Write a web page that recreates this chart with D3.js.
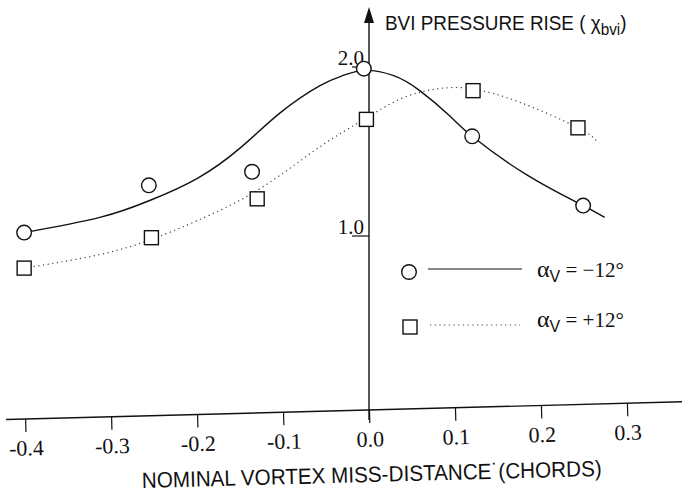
<!DOCTYPE html>
<html>
<head>
<meta charset="utf-8">
<script src="https://cdn.jsdelivr.net/npm/d3@7"></script>
<style>
body { margin: 0; background: #fff; }
svg { display: block; }
</style>
</head>
<body>
<script>
// measured points
var xMinus = [-0.401, -0.256, -0.136, -0.006, 0.120, 0.249];
var yMinus = [1.02, 1.30, 1.38, 1.99, 1.59, 1.18];
var xPlus = [-0.401, -0.253, -0.130, -0.003, 0.121, 0.243];
var yPlus = [0.81, 0.99, 1.22, 1.69, 1.86, 1.64];

// faired curves as drawn in the figure
var fitMinusX = [-0.401, -0.313, -0.255, -0.200, -0.150, -0.103, -0.057, -0.030, -0.005, 0.028, 0.059, 0.094, 0.120, 0.184, 0.249, 0.274];
var fitMinusY = [1.02, 1.11, 1.21, 1.34, 1.52, 1.73, 1.89, 1.95, 1.98, 1.95, 1.86, 1.71, 1.59, 1.36, 1.18, 1.11];
var fitPlusX = [-0.401, -0.313, -0.253, -0.200, -0.130, -0.065, -0.019, 0.028, 0.059, 0.086, 0.121, 0.176, 0.243, 0.265];
var fitPlusY = [0.81, 0.89, 0.98, 1.09, 1.27, 1.50, 1.65, 1.79, 1.85, 1.875, 1.87, 1.79, 1.64, 1.56];

var xTicks = [-0.4, -0.3, -0.2, -0.1, 0.0, 0.1, 0.2, 0.3];
var yTicks = [1.0, 2.0];

var W = 682, H = 496;
var svg = d3.select("body").append("svg").attr("width", W).attr("height", H);

var x = d3.scaleLinear().domain([-0.4, 0.3]).range([25, 627]);
var y = d3.scaleLinear().domain([0, 2]).range([405, 67]);
var x0 = x(0);

// x axis, slightly tilted like the scanned original
var xg = svg.append("g").attr("transform", "rotate(-1.5," + x0 + ",410)");
xg.append("line").attr("x1", 6).attr("x2", 690).attr("y1", 410).attr("y2", 410)
	.attr("stroke", "#111").attr("stroke-width", 1.4);
var xAxis = d3.axisBottom(x).tickValues(xTicks).tickSize(13).tickPadding(8)
	.tickFormat(function(d){ return d3.format(".1f")(d).replace("\u2212", "-"); });
var xa = xg.append("g").attr("transform", "translate(0,410)").call(xAxis);
xa.select(".domain").remove();
xa.selectAll(".tick line").attr("stroke", "#111").attr("stroke-width", 1.2);
xa.selectAll(".tick text").attr("font-family", "Liberation Serif").attr("font-size", 22).attr("fill", "#111");
xg.append("text").attr("x", 370).attr("y", 482).attr("text-anchor", "middle")
	.attr("font-family", "Liberation Sans").attr("font-size", 22).attr("fill", "#111")
	.attr("textLength", 460).attr("lengthAdjust", "spacingAndGlyphs")
	.text("NOMINAL VORTEX MISS-DISTANCE\u02D9(CHORDS)");

// y axis with arrow
svg.append("line").attr("x1", x0).attr("x2", x0).attr("y1", 420).attr("y2", 18)
	.attr("stroke", "#111").attr("stroke-width", 1.4);
svg.append("path").attr("d", "M" + x0 + ",7 L" + (x0 - 5) + ",23 L" + (x0 + 5) + ",23 Z").attr("fill", "#111");
yTicks.forEach(function(t){
	svg.append("line").attr("x1", x0 - 17).attr("x2", x0).attr("y1", y(t)).attr("y2", y(t))
		.attr("stroke", "#111").attr("stroke-width", 1.2);
	svg.append("text").attr("x", x0 - 5).attr("y", y(t) - 2).attr("text-anchor", "end")
		.attr("font-family", "Liberation Serif").attr("font-size", 21).attr("fill", "#111")
		.text(d3.format(".1f")(t));
});

// title
var title = svg.append("text").attr("transform", "translate(385,30) scale(0.9,1)")
	.attr("font-family", "Liberation Sans").attr("font-size", 21).attr("fill", "#111");
title.append("tspan").text("BVI PRESSURE RISE ( \u03C7");
title.append("tspan").attr("dy", 5).attr("font-size", 17).text("bvi");
title.append("tspan").attr("dy", -5).text(")");

// curves
var line = d3.line().x(function(d){ return x(d[0]); }).y(function(d){ return y(d[1]); }).curve(d3.curveNatural);
svg.append("path").datum(d3.zip(fitMinusX, fitMinusY)).attr("d", line)
	.attr("fill", "none").attr("stroke", "#111").attr("stroke-width", 1.4);
svg.append("path").datum(d3.zip(fitPlusX, fitPlusY)).attr("d", line)
	.attr("fill", "none").attr("stroke", "#444").attr("stroke-width", 1.2).attr("stroke-dasharray", "1.2,3.5");

// markers
svg.selectAll("circle.m").data(d3.zip(xMinus, yMinus)).enter().append("circle")
	.attr("cx", function(d){ return x(d[0]); }).attr("cy", function(d){ return y(d[1]); })
	.attr("r", 7.3).attr("fill", "#fff").attr("stroke", "#111").attr("stroke-width", 1.4);
svg.selectAll("rect.m").data(d3.zip(xPlus, yPlus)).enter().append("rect")
	.attr("x", function(d){ return x(d[0]) - 7; }).attr("y", function(d){ return y(d[1]) - 7; })
	.attr("width", 14).attr("height", 14).attr("fill", "#fff").attr("stroke", "#111").attr("stroke-width", 1.4);

// legend
var lg = svg.append("g");
lg.append("circle").attr("cx", 409).attr("cy", 272).attr("r", 7.3).attr("fill", "#fff").attr("stroke", "#111").attr("stroke-width", 1.4);
lg.append("line").attr("x1", 428).attr("x2", 522).attr("y1", 269).attr("y2", 269).attr("stroke", "#111").attr("stroke-width", 1.2);
lg.append("rect").attr("x", 403).attr("y", 320).attr("width", 14).attr("height", 14).attr("fill", "#fff").attr("stroke", "#111").attr("stroke-width", 1.4);
lg.append("line").attr("x1", 430).attr("x2", 520).attr("y1", 325).attr("y2", 325).attr("stroke", "#444").attr("stroke-width", 1.2).attr("stroke-dasharray", "1.2,3.5");
[["\u2212", 277], ["+", 327]].forEach(function(s){
	var t = lg.append("text").attr("x", 537).attr("y", s[1]).attr("font-family", "Liberation Serif").attr("font-size", 24).attr("fill", "#111");
	t.append("tspan").text("\u03B1");
	t.append("tspan").attr("dy", 5).attr("font-size", 16).attr("font-family", "Liberation Sans").text("V");
	t.append("tspan").attr("dy", -5).attr("font-size", 21).text(" = " + s[0] + "12\u00B0");
});
</script>
</body>
</html>
